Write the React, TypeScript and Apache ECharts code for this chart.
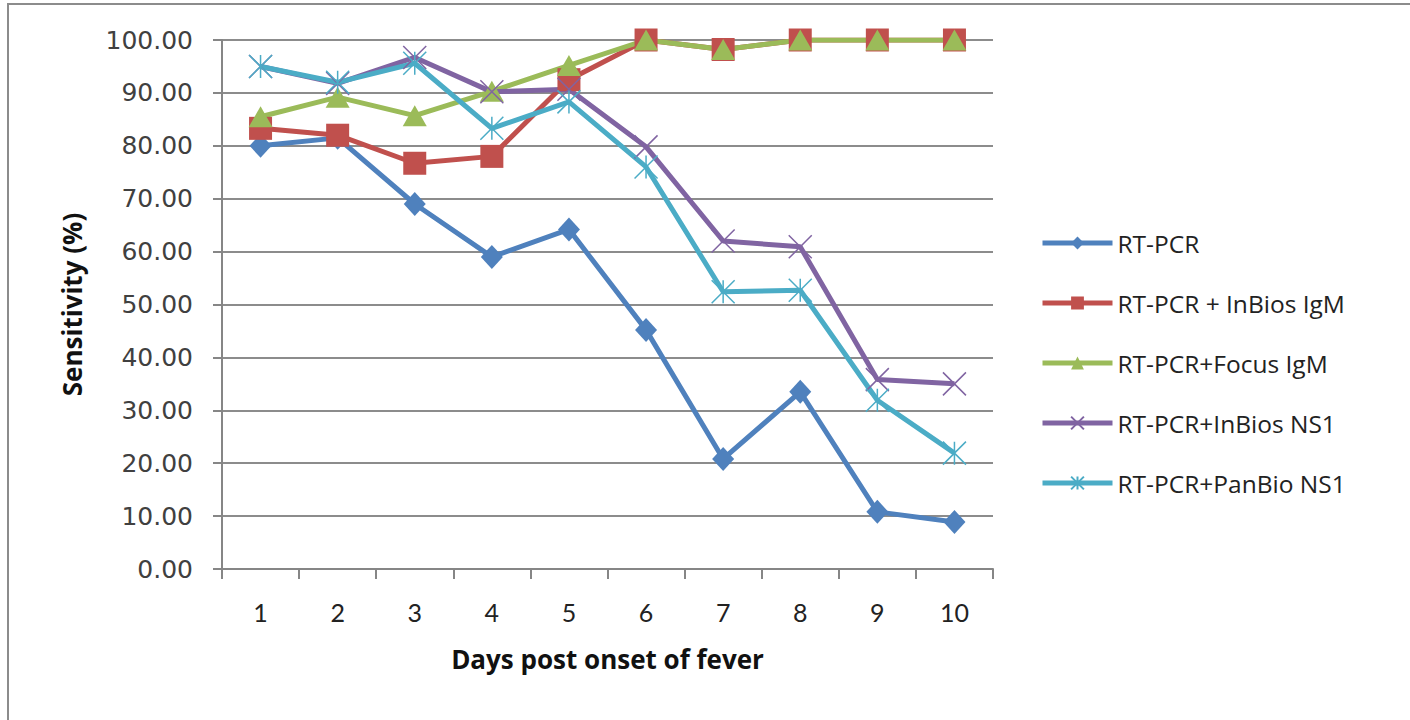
import React, { useEffect, useRef } from "react";
import * as echarts from "echarts";

const days = ["1", "2", "3", "4", "5", "6", "7", "8", "9", "10"];
const seriesNames = [
  "RT-PCR",
  "RT-PCR + InBios IgM",
  "RT-PCR+Focus IgM",
  "RT-PCR+InBios NS1",
  "RT-PCR+PanBio NS1",
];
const rtPcr = [80, 81.5, 69, 59, 64.2, 45.2, 20.8, 33.5, 10.8, 8.9];
const inBiosIgM = [83.3, 82, 76.7, 78, 92.5, 100, 98.2, 100, 100, 100];
const focusIgM = [85.5, 89.2, 85.7, 90.3, 95.2, 100, 98.2, 100, 100, 100];
const inBiosNS1 = [95, 91.8, 96.7, 90.2, 90.7, 79.8, 62, 60.9, 35.8, 35];
const panBioNS1 = [95, 92, 95.6, 83.3, 88.3, 76, 52.4, 52.7, 31.9, 21.9];

const colors = ["#4F81BD", "#C0504D", "#9BBB59", "#8064A2", "#4BACC6"];

export default function App() {
  const ref = useRef<HTMLDivElement>(null);
  useEffect(() => {
    document.body.style.margin = "0";
    if (!ref.current) return;
    const chart = echarts.init(ref.current, undefined, { renderer: "svg" });
    const values = [rtPcr, inBiosIgM, focusIgM, inBiosNS1, panBioNS1];
    const symbols = [
      "diamond",
      "rect",
      "triangle",
      "path://M0,0L100,100M100,0L0,100",
      "path://M0,0L100,100M100,0L0,100M50,0L50,100",
    ];
    const sizes: any[] = [[22, 24], 23, [24, 21], 23, 23];
    const series = values.map((d, i) => ({
      name: seriesNames[i],
      type: "line",
      data: d,
      symbol: symbols[i],
      symbolSize: sizes[i],
      showAllSymbol: true,
      lineStyle: { color: colors[i], width: 5 },
      itemStyle: {
        color: colors[i],
        borderColor: colors[i],
        borderWidth: i >= 3 ? 1.5 : 0,
      },
    }));
    chart.setOption({
      animation: false,
      backgroundColor: "#ffffff",
      color: colors,
      graphic: [
        {
          type: "rect",
          shape: { x: 8, y: 4, width: 1500, height: 800 },
          style: { fill: "none", stroke: "#8c8c8c", lineWidth: 2 },
          silent: true,
        },
      ],
      grid: { left: 222, top: 40, width: 771, height: 529, containLabel: false },
      legend: {
        orient: "vertical",
        left: 1040,
        top: 228,
        itemWidth: 70,
        itemHeight: 16,
        itemGap: 30,
        padding: 0,
        data: seriesNames,
        lineStyle: { width: 5 },
        textStyle: {
          fontFamily: "Open Sans",
          fontSize: 24.5,
          color: "#222222",
          lineHeight: 30,
        },
      },
      xAxis: {
        type: "category",
        data: days,
        boundaryGap: true,
        name: "Days post onset of fever",
        nameLocation: "middle",
        nameGap: 77,
        nameTextStyle: {
          fontFamily: "Open Sans",
          fontWeight: "bold",
          fontSize: 26,
          color: "#111111",
        },
        axisLine: { show: true, lineStyle: { color: "#868686", width: 2 } },
        axisTick: {
          show: true,
          length: 10,
          alignWithLabel: false,
          lineStyle: { color: "#868686", width: 2 },
        },
        axisLabel: {
          fontFamily: "Lato",
          fontSize: 25,
          color: "#222222",
          margin: 30,
        },
        splitLine: { show: false },
      },
      yAxis: {
        type: "value",
        min: 0,
        max: 100,
        interval: 10,
        name: "Sensitivity (%)",
        nameLocation: "middle",
        nameRotate: 90,
        nameGap: 137,
        nameTextStyle: {
          fontFamily: "Open Sans",
          fontWeight: "bold",
          fontSize: 26,
          color: "#111111",
        },
        axisLine: { show: true, lineStyle: { color: "#868686", width: 2 } },
        axisTick: {
          show: true,
          length: 9,
          lineStyle: { color: "#868686", width: 2 },
        },
        axisLabel: {
          fontFamily: "DejaVu Sans",
          fontSize: 25,
          color: "#404040",
          margin: 29,
          formatter: (v: number) => v.toFixed(2),
        },
        splitLine: { show: true, lineStyle: { color: "#8c8c8c", width: 2 } },
      },
      series,
    });
    return () => chart.dispose();
  }, []);
  return <div ref={ref} style={{ width: 1410, height: 720 }} />;
}
